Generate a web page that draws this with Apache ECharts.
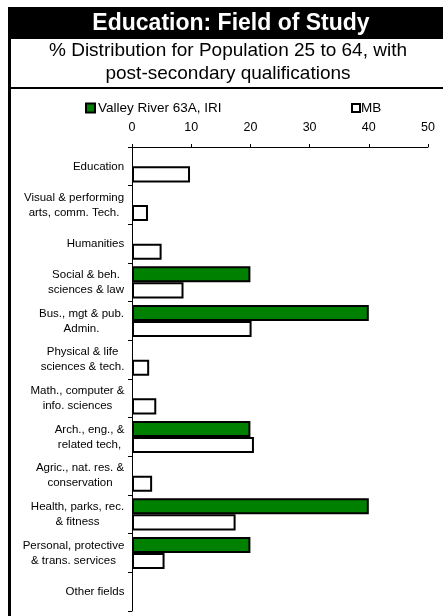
<!DOCTYPE html>
<html>
<head>
<meta charset="utf-8">
<script src="https://cdn.jsdelivr.net/npm/echarts@6/dist/echarts.min.js"></script>
<style>
html,body{margin:0;padding:0;background:#fff;}
#c{width:443px;height:616px;}
</style>
</head>
<body>
<div id="c"></div>
<script>
var categories = [
  "Education",
  "Visual & performing\narts, comm. Tech.",
  "Humanities",
  "Social & beh.\nsciences & law",
  "Bus., mgt & pub.\nAdmin.",
  "Physical & life\nsciences & tech.",
  "Math., computer &\ninfo. sciences",
  "Arch., eng., &\nrelated tech,",
  "Agric., nat. res. &\nconservation",
  "Health, parks, rec.\n& fitness",
  "Personal, protective\n& trans. services",
  "Other fields"
];
var valleyRiver = [0, 0, 0, 20, 40, 0, 0, 20, 0, 40, 20, 0];
var mb = [9.8, 2.7, 5.0, 8.7, 20.2, 2.9, 4.1, 20.6, 3.4, 17.5, 5.5, 0];
var xTicks = [0, 10, 20, 30, 40, 50];
var seriesNames = ["Valley River 63A, IRI", "MB"];
var titleText = "Education: Field of Study";
var subtitleText = "% Distribution for Population 25 to 64, with\npost-secondary qualifications";

var FONT = '"Liberation Sans", Arial, sans-serif';
var LABEL_SIZE = 11.5;

// measure label lines so each label is centred line-by-line but right-aligned as a block
var cv = document.createElement('canvas').getContext('2d');
cv.font = LABEL_SIZE + 'px "Liberation Sans"';
var rich = {};
categories.forEach(function (c, i) {
  var w = 0;
  c.split('\n').forEach(function (l) { w = Math.max(w, cv.measureText(l).width); });
  rich['r' + i] = { width: Math.ceil(w) + 1, align: 'center', fontSize: LABEL_SIZE, lineHeight: 15, color: '#000', fontFamily: FONT };
});

var chart = echarts.init(document.getElementById('c'), null, { renderer: 'canvas' });
chart.setOption({
  animation: false,
  backgroundColor: '#fff',
  graphic: [
    { type: 'rect', shape: { x: 8, y: 7, width: 440, height: 32 }, style: { fill: '#000' }, z: 0 },
    { type: 'rect', shape: { x: 8, y: 7, width: 3, height: 615 }, style: { fill: '#000' }, z: 0 },
    { type: 'rect', shape: { x: 8, y: 87, width: 440, height: 2 }, style: { fill: '#000' }, z: 0 }
  ],
  title: [
    { text: titleText, left: 231, top: 12, padding: 0, textAlign: 'center',
      textStyle: { color: '#fff', fontSize: 23, fontWeight: 'bold', fontFamily: FONT } },
    { text: subtitleText, left: 228, top: 39, padding: 0, textAlign: 'center',
      textStyle: { color: '#000', fontSize: 19, fontWeight: 'normal', lineHeight: 23, fontFamily: FONT } }
  ],
  legend: [
    { data: [seriesNames[0]], left: 85, top: 101, padding: 0, itemWidth: 9, itemHeight: 9, icon: 'rect',
      textStyle: { fontSize: 13.5, color: '#000', fontFamily: FONT, padding: [0, 0, 0, -2] } },
    { data: [seriesNames[1]], left: 351, top: 101, padding: 0, itemWidth: 8, itemHeight: 8, icon: 'rect',
      textStyle: { fontSize: 13.5, color: '#000', fontFamily: FONT, padding: [0, 0, 0, -4] } }
  ],
  grid: { left: 132, right: 15, top: 147, bottom: 5, containLabel: false },
  xAxis: {
    type: 'value', position: 'top', min: xTicks[0], max: xTicks[xTicks.length - 1], interval: 10,
    splitLine: { show: false },
    axisLine: { show: true, lineStyle: { color: '#000', width: 1 } },
    axisTick: { show: true, length: 3, lineStyle: { color: '#000' } },
    axisLabel: { margin: 13, fontSize: 12.5, color: '#000', fontFamily: FONT }
  },
  yAxis: {
    type: 'category', inverse: true, data: categories,
    axisLine: { show: true, lineStyle: { color: '#000', width: 1 } },
    axisTick: { show: true, length: 4, lineStyle: { color: '#000' } },
    axisLabel: {
      margin: 7, color: '#000', fontFamily: FONT, fontSize: LABEL_SIZE, lineHeight: 15,
      formatter: function (v, i) {
        return v.split('\n').map(function (l) { return '{r' + i + '|' + l + '}'; }).join('\n');
      },
      rich: rich
    }
  },
  series: [
    { name: seriesNames[0], type: 'bar', barGap: '0%', barCategoryGap: '17%',
      data: valleyRiver.map(function (v) { return v || null; }),
      itemStyle: { color: '#008000', borderColor: '#000', borderWidth: 2 } },
    { name: seriesNames[1], type: 'bar', barGap: '0%', barCategoryGap: '17%',
      data: mb.map(function (v) { return v || null; }),
      itemStyle: { color: '#fff', borderColor: '#000', borderWidth: 2 } }
  ]
});
</script>
</body>
</html>
